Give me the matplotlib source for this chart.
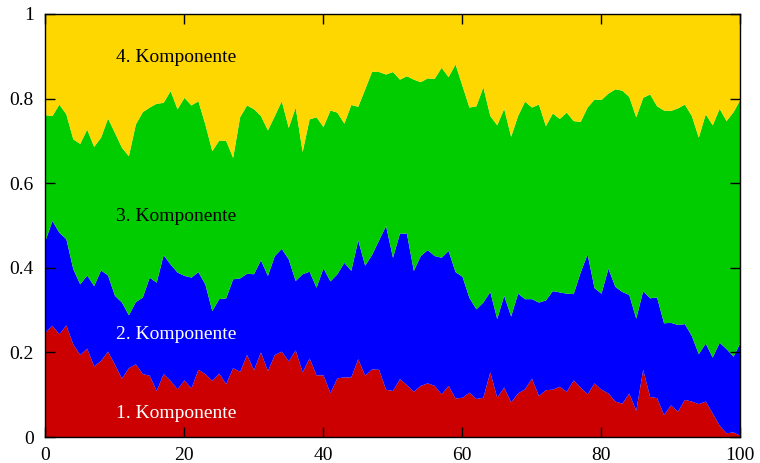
import numpy as np
import matplotlib
matplotlib.use("Agg")
import matplotlib.pyplot as plt

# Kumulierte Obergrenzen der vier Komponenten (x = 0..100)
x = np.arange(0, 101)

kum1 = [0.248, 0.264, 0.244, 0.265, 0.220, 0.195, 0.210, 0.168, 0.181, 0.203,
        0.172, 0.139, 0.164, 0.173, 0.150, 0.146, 0.110, 0.150, 0.134, 0.114,
        0.135, 0.116, 0.160, 0.150, 0.134, 0.151, 0.126, 0.164, 0.155, 0.195,
        0.159, 0.201, 0.157, 0.195, 0.203, 0.180, 0.206, 0.154, 0.187, 0.147,
        0.147, 0.105, 0.140, 0.142, 0.142, 0.185, 0.146, 0.161, 0.160, 0.113,
        0.110, 0.138, 0.124, 0.108, 0.122, 0.128, 0.122, 0.102, 0.122, 0.092,
        0.094, 0.106, 0.091, 0.094, 0.154, 0.094, 0.118, 0.083, 0.104, 0.114,
        0.139, 0.098, 0.112, 0.113, 0.120, 0.108, 0.135, 0.118, 0.102, 0.128,
        0.113, 0.104, 0.085, 0.080, 0.104, 0.063, 0.160, 0.096, 0.093, 0.053,
        0.076, 0.061, 0.089, 0.085, 0.079, 0.085, 0.057, 0.028, 0.010, 0.012,
        0.004]

kum2 = [0.465, 0.512, 0.484, 0.469, 0.398, 0.362, 0.383, 0.358, 0.395, 0.383,
        0.335, 0.319, 0.289, 0.320, 0.331, 0.378, 0.366, 0.431, 0.409, 0.390,
        0.382, 0.378, 0.391, 0.362, 0.299, 0.327, 0.329, 0.374, 0.376, 0.387,
        0.386, 0.419, 0.382, 0.429, 0.446, 0.421, 0.370, 0.386, 0.392, 0.354,
        0.400, 0.369, 0.386, 0.413, 0.394, 0.466, 0.406, 0.432, 0.466, 0.500,
        0.425, 0.482, 0.482, 0.394, 0.429, 0.443, 0.429, 0.425, 0.441, 0.391,
        0.380, 0.330, 0.303, 0.319, 0.344, 0.280, 0.335, 0.286, 0.340, 0.327,
        0.327, 0.319, 0.324, 0.346, 0.343, 0.340, 0.339, 0.390, 0.433, 0.353,
        0.340, 0.399, 0.356, 0.344, 0.337, 0.281, 0.346, 0.329, 0.331, 0.270,
        0.271, 0.266, 0.268, 0.240, 0.197, 0.222, 0.189, 0.224, 0.209, 0.191,
        0.224]

kum3 = [0.762, 0.760, 0.787, 0.764, 0.705, 0.694, 0.728, 0.687, 0.709, 0.754,
        0.720, 0.685, 0.665, 0.740, 0.769, 0.780, 0.789, 0.791, 0.819, 0.776,
        0.803, 0.785, 0.795, 0.740, 0.677, 0.702, 0.701, 0.661, 0.757, 0.785,
        0.776, 0.760, 0.726, 0.760, 0.795, 0.732, 0.780, 0.675, 0.752, 0.757,
        0.734, 0.773, 0.768, 0.742, 0.786, 0.782, 0.823, 0.865, 0.864, 0.858,
        0.864, 0.846, 0.854, 0.846, 0.840, 0.849, 0.848, 0.874, 0.852, 0.882,
        0.831, 0.780, 0.783, 0.828, 0.760, 0.738, 0.777, 0.711, 0.760, 0.794,
        0.780, 0.787, 0.736, 0.766, 0.753, 0.768, 0.748, 0.746, 0.780, 0.799,
        0.798, 0.813, 0.823, 0.820, 0.805, 0.757, 0.803, 0.811, 0.783, 0.773,
        0.772, 0.778, 0.787, 0.760, 0.709, 0.764, 0.738, 0.777, 0.748, 0.769,
        0.799]

kum4 = np.ones(len(x))

farben = ["#CC0000", "#0000FF", "#00CC00", "#FFD700"]
labels = ["1. Komponente", "2. Komponente", "3. Komponente", "4. Komponente"]
label_y = [0.056, 0.243, 0.521, 0.897]
label_farbe = ["white", "white", "black", "black"]

plt.rcParams.update({
    "font.family": "Liberation Serif",
    "font.size": 14,
})

fig = plt.figure(figsize=(7.6, 4.63), dpi=100)
ax = fig.add_axes([45 / 760, 26 / 463, 695 / 760, 423 / 463])

unten = np.zeros(len(x))
for oben, farbe in zip([kum1, kum2, kum3, kum4], farben):
    oben = np.asarray(oben)
    ax.fill_between(x, unten, oben, color=farbe, lw=0)
    unten = oben

for txt, yy, c in zip(labels, label_y, label_farbe):
    ax.text(10.2, yy, txt, color=c, fontsize=14, va="center", ha="left")

ax.set_xlim(0, 100)
ax.set_ylim(0, 1)
ax.set_xticks([0, 20, 40, 60, 80, 100])
ax.set_yticks([0, 0.2, 0.4, 0.6, 0.8, 1])
ax.set_yticklabels(["0", "0.2", "0.4", "0.6", "0.8", "1"])
ax.tick_params(direction="in", length=7, width=1, top=True, right=True,
               labelsize=14)
ax.tick_params(axis="x", pad=7)
ax.tick_params(axis="y", pad=8)
for s in ax.spines.values():
    s.set_linewidth(1)
    s.set_zorder(5)
ax.set_axisbelow(False)

fig.savefig("out.png", dpi=100)
